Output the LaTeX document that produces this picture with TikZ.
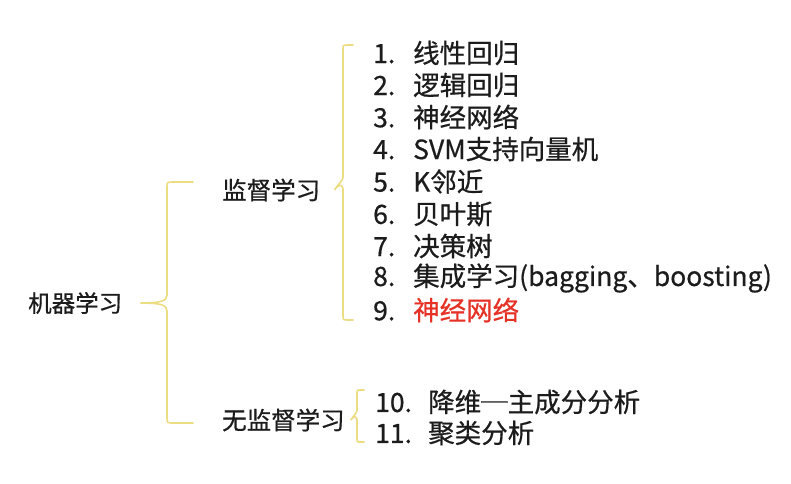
\documentclass[tikz,border=0pt]{standalone}
\usepackage{fontspec}
\setmainfont{Noto Sans CJK SC}[FakeBold=0.6]
\definecolor{bracegold}{RGB}{236,220,130}
\definecolor{textgray}{RGB}{28,28,28}
\definecolor{hired}{RGB}{230,50,38}

\begin{document}
\begin{tikzpicture}[x=1pt,y=-1pt,
	root/.style={anchor=west,inner sep=0pt,text=textgray,font=\fontsize{23.5}{28}\selectfont},
	branch/.style={anchor=west,inner sep=0pt,text=textgray,font=\fontsize{24.5}{30}\selectfont},
	leaf/.style={anchor=west,inner sep=0pt,text=textgray,font=\fontsize{26.5}{32}\selectfont},
	brace/.style={draw=bracegold,line width=1.6pt,line cap=round}]
	\useasboundingbox[fill=white] (0,0) rectangle (791,483);

	\node[root] (ml) at (28,303) {机器学习};
	\node[branch] (sup) at (222,190) {监督学习};
	\node[branch] (unsup) at (222,420) {无监督学习};

	\node[leaf] (linreg) at (373,53) {\makebox[40pt][l]{1.}线性回归};
	\node[leaf] (logreg) at (373,85) {\makebox[40pt][l]{2.}逻辑回归};
	\node[leaf] (neural) at (373,117) {\makebox[40pt][l]{3.}神经网络};
	\node[leaf] (svm) at (373,149) {\makebox[40pt][l]{4.}SVM支持向量机};
	\node[leaf] (knn) at (373,181.5) {\makebox[40pt][l]{5.}K邻近};
	\node[leaf] (bayes) at (373,214) {\makebox[40pt][l]{6.}贝叶斯};
	\node[leaf] (tree) at (373,246) {\makebox[40pt][l]{7.}决策树};
	\node[leaf] (ensemble) at (373,278) {\makebox[40pt][l]{8.}集成学习(bagging、boosting)};
	\node[leaf] (neuralb) at (373,310) {\makebox[40pt][l]{9.}\textcolor{hired}{神经网络}};

	\node[leaf] (pca) at (375,402) {\makebox[53pt][l]{10.}降维─主成分分析};
	\node[leaf] (cluster) at (375,433) {\makebox[53pt][l]{11.}聚类分析};

	% brace: machine learning
	\draw[brace] (193,182) -- (173,182) .. controls (167,182) .. (167,188)
		-- (167,295) .. controls (167,301) and (161,303) .. ([xshift=18pt]ml.east)
		.. controls (161,303) and (167,305) .. (167,311)
		-- (167,417) .. controls (167,423) .. (173,423) -- (193,423);
	% brace: supervised
	\draw[brace] (353,45) -- (348,45) .. controls (343,45) .. (343,50)
		-- (343,177) .. controls (343,181) and (339,183) .. ([xshift=14pt]sup.east)
		.. controls (339,183) and (343,185) .. (343,189)
		-- (343,315) .. controls (343,320) .. (348,320) -- (353,320);
	% brace: unsupervised
	\draw[brace] (364,390) -- (361,390) .. controls (357,390) .. (357,394)
		-- (357,410) .. controls (357,413) and (354,415) .. ([xshift=6pt]unsup.east)
		.. controls (354,415) and (357,417) .. (357,420)
		-- (357,438) .. controls (357,442) .. (361,442) -- (364,442);
\end{tikzpicture}
\end{document}
